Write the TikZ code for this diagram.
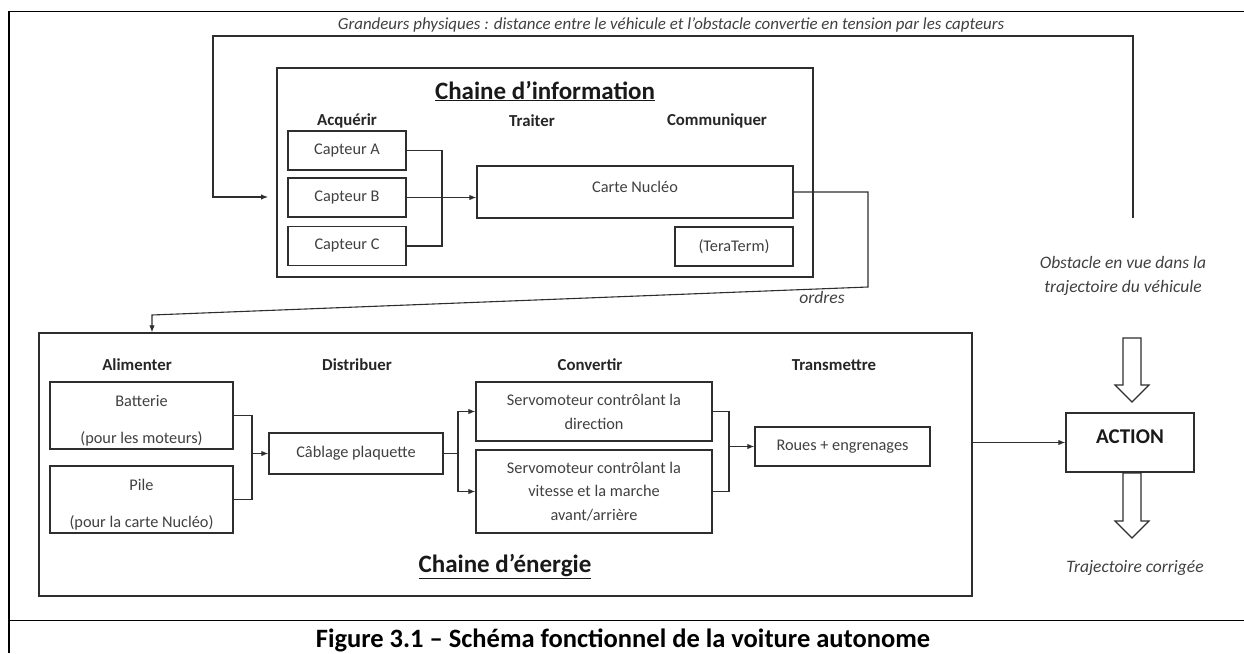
\documentclass[tikz,border=0pt]{standalone}
\usepackage{fontspec}
\setmainfont{Carlito}
\usetikzlibrary{arrows.meta,calc}
\definecolor{linec}{HTML}{2E2E2E}
\definecolor{textc}{HTML}{404040}
\begin{document}
\begin{tikzpicture}[x=1pt,y=-1pt,
  box/.style={draw=linec, line width=1.3pt, inner sep=0pt, align=center, text=textc,
    font=\fontsize{16.3}{19}\selectfont},
  conn/.style={draw=linec, line width=1.1pt},
  arr/.style={conn, -{Latex[length=7pt,width=5.5pt]}},
  headl/.style={inner sep=0pt, text=black!85, font=\bfseries\fontsize{16.8}{19}\selectfont},
  ttl/.style={inner sep=0pt, text=black!90, font=\bfseries\fontsize{25}{29}\selectfont},
  itl/.style={inner sep=0pt, text=textc, font=\itshape\fontsize{17.5}{20}\selectfont},
  blockarrow/.style={draw=linec, line width=1.1pt, fill=white}
]
\useasboundingbox (0,0) rectangle (1244,653);

% outer frame
\draw[black, line width=1pt] (9,11) -- (1244,11);
\draw[black, line width=1pt] (9,620) -- (1244,620);
\draw[black, line width=2pt] (9,10.5) -- (9,653);

% caption
\node[inner sep=0pt, font=\bfseries\fontsize{26.5}{30}\selectfont] (caption) at (623,640)
  {Figure 3.1 – Schéma fonctionnel de la voiture autonome};

% ---------- Chaine d'information ----------
\node[box, minimum width=536pt, minimum height=209pt] (infobox) at (545,172.5) {};
\node[ttl] (infotitle) at (545,91) {\underline{Chaine d’information}};
\node[headl] (acq) at (347,121) {Acquérir};
\node[headl] (trait) at (532,121) {Traiter};
\node[headl] (comm) at (717,121) {Communiquer};

\node[box, minimum width=118pt, minimum height=39pt] (capA) at (347,150.5) {Capteur A};
\node[box, minimum width=118pt, minimum height=39pt] (capB) at (347,197.5) {Capteur B};
\node[box, minimum width=118pt, minimum height=39pt] (capC) at (347,246) {Capteur C};

\node[box, minimum width=316pt, minimum height=52pt] (carte) at (635,192) {\raisebox{10pt}{Carte Nucléo}};
\node[box, minimum width=118pt, minimum height=39pt] (tera) at (734,246.5) {(TeraTerm)};

\draw[conn] (capA.east) -- (442,150.5) |- (capC.east);
\draw[arr] (capB.east) -- (carte.west |- capB.east);
\draw[conn] ($(tera.north)+(-4,0)$) -- ($(tera.north)+(-4,0)$ |- carte.south);

% feedback loop
\coordinate (fbstart) at (1133,218);
\coordinate (fbend) at (268,197);
\draw[arr] (fbstart) -- (1133,36) -- (213,36) |- (fbend);
\node[itl, font=\itshape\fontsize{16.9}{20}\selectfont] (grandeurs) at (671,25)
  {Grandeurs physiques : distance entre le véhicule et l’obstacle convertie en tension par les capteurs};

% ---------- Chaine d'energie ----------
\coordinate (obend) at (152,315);
\node[box, minimum width=933pt, minimum height=263pt] (energy) at (505.5,464.5) {};
\draw[arr] (carte.east) -| (868,287) -- (obend) -- (obend |- energy.north);
\node[itl] (ordres) at (822,297) {ordres};

\node[headl] (alim) at (137,365) {Alimenter};
\node[headl] (distr) at (357,365) {Distribuer};
\node[headl] (conv) at (590,365) {Convertir};
\node[headl] (trans) at (834,365) {Transmettre};

\node[box, minimum width=183pt, minimum height=67pt] (bat) at (141.5,415.5)
  {\rule{0pt}{22pt}Batterie\\[18pt](pour les moteurs)};
\node[box, minimum width=183pt, minimum height=67pt] (pile) at (141.5,499.5)
  {\rule{0pt}{22pt}Pile\\[18pt](pour la carte Nucléo)};
\node[box, minimum width=174pt, minimum height=41pt] (cab) at (356,453.5) {Câblage plaquette};
\node[box, minimum width=236pt, minimum height=59pt, font=\fontsize{16.3}{24}\selectfont] (s1) at (594,411.5)
  {Servomoteur contrôlant la\\direction};
\node[box, minimum width=236pt, minimum height=83pt, font=\fontsize{16.3}{23.5}\selectfont] (s2) at (594,491.5)
  {Servomoteur contrôlant la\\vitesse et la marche\\avant/arrière};
\node[box, minimum width=175pt, minimum height=39pt] (roues) at (842.5,446.5) {Roues + engrenages};

\draw[conn] (bat.east) -- (252,415.5) |- (pile.east);
\draw[arr] (252,453.5) -- (cab.west);
\coordinate (jc) at (458,453.5);
\draw[conn] (cab.east) -- (jc);
\draw[arr] (jc) |- (s1.west);
\draw[arr] (jc) |- (s2.west);
\draw[conn] (s1.east) -- (729,411.5) |- (s2.east);
\draw[arr] (729,446.5) -- (roues.west);

\node[ttl] (energytitle) at (505,567) {\underline{Chaine d’énergie}};

% ---------- ACTION ----------
\node[box, minimum width=128pt, minimum height=59pt, text=black!90,
  font=\bfseries\fontsize{21}{25}\selectfont] (action) at (1130,442.5) {\raisebox{11pt}{ACTION}};
\draw[arr] (energy.east |- action.west) -- (action.west);

\draw[blockarrow] (1123,338) -- (1141,338) -- (1141,385) -- (1149,385) -- (1132,402)
  -- (1115,385) -- (1123,385) -- cycle;
\draw[blockarrow] (1123,473) -- (1141,473) -- (1141,521) -- (1149,521) -- (1132,538)
  -- (1115,521) -- (1123,521) -- cycle;

\node[itl] (obst1) at (1123,262) {Obstacle en vue dans la};
\node[itl] (obst2) at (1123,288) {trajectoire du véhicule};
\node[itl] (trajc) at (1135,568) {Trajectoire corrigée};
\end{tikzpicture}
\end{document}
